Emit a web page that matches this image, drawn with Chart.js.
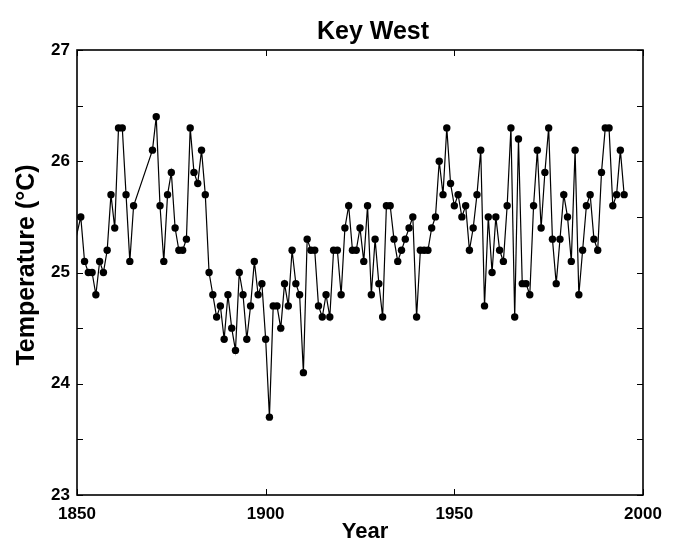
<!DOCTYPE html>
<html>
<head>
<meta charset="utf-8">
<title>Key West</title>
<script src="https://cdn.jsdelivr.net/npm/chart.js@4/dist/chart.umd.min.js"></script>
<style>
  html, body { margin: 0; padding: 0; background: #fff; }
  #c { display: block; }
</style>
</head>
<body>
<canvas id="c" width="675" height="546"></canvas>
<script>
// Annual mean temperature at Key West (°C)
const years = [
  1849, 1851, 1852, 1853, 1854, 1855, 1856, 1857, 1858, 1859, 1860,
  1861, 1862, 1863, 1864, 1865,
  1870, 1871, 1872, 1873, 1874, 1875, 1876, 1877, 1878, 1879, 1880,
  1881, 1882, 1883, 1884, 1885, 1886, 1887, 1888, 1889, 1890,
  1891, 1892, 1893, 1894, 1895, 1896, 1897, 1898, 1899, 1900,
  1901, 1902, 1903, 1904, 1905, 1906, 1907, 1908, 1909, 1910,
  1911, 1912, 1913, 1914, 1915, 1916, 1917, 1918, 1919, 1920,
  1921, 1922, 1923, 1924, 1925, 1926, 1927, 1928, 1929, 1930,
  1931, 1932, 1933, 1934, 1935, 1936, 1937, 1938, 1939, 1940,
  1941, 1942, 1943, 1944, 1945, 1946, 1947, 1948, 1949, 1950,
  1951, 1952, 1953, 1954, 1955, 1956, 1957, 1958, 1959, 1960,
  1961, 1962, 1963, 1964, 1965, 1966, 1967, 1968, 1969, 1970,
  1971, 1972, 1973, 1974, 1975, 1976, 1977, 1978, 1979, 1980,
  1981, 1982, 1983, 1984, 1985, 1986, 1987, 1988, 1989, 1990,
  1991, 1992, 1993, 1994, 1995
];
const temps = [
  25.2, 25.5, 25.1, 25.0, 25.0, 24.8, 25.1, 25.0, 25.2, 25.7, 25.4,
  26.3, 26.3, 25.7, 25.1, 25.6,
  26.1, 26.4, 25.6, 25.1, 25.7, 25.9, 25.4, 25.2, 25.2, 25.3, 26.3,
  25.9, 25.8, 26.1, 25.7, 25.0, 24.8, 24.6, 24.7, 24.4, 24.8,
  24.5, 24.3, 25.0, 24.8, 24.4, 24.7, 25.1, 24.8, 24.9, 24.4,
  23.7, 24.7, 24.7, 24.5, 24.9, 24.7, 25.2, 24.9, 24.8, 24.1,
  25.3, 25.2, 25.2, 24.7, 24.6, 24.8, 24.6, 25.2, 25.2, 24.8,
  25.4, 25.6, 25.2, 25.2, 25.4, 25.1, 25.6, 24.8, 25.3, 24.9,
  24.6, 25.6, 25.6, 25.3, 25.1, 25.2, 25.3, 25.4, 25.5, 24.6,
  25.2, 25.2, 25.2, 25.4, 25.5, 26.0, 25.7, 26.3, 25.8, 25.6,
  25.7, 25.5, 25.6, 25.2, 25.4, 25.7, 26.1, 24.7, 25.5, 25.0,
  25.5, 25.2, 25.1, 25.6, 26.3, 24.6, 26.2, 24.9, 24.9, 24.8,
  25.6, 26.1, 25.4, 25.9, 26.3, 25.3, 24.9, 25.3, 25.7, 25.5,
  25.1, 26.1, 24.8, 25.2, 25.6, 25.7, 25.3, 25.2, 25.9, 26.3,
  26.3, 25.6, 25.7, 26.1, 25.7
];
const xTickYears = [1850, 1900, 1950, 2000];
const yRange = [23, 27];

const FONT = '"Liberation Sans", Arial, Helvetica, sans-serif';

// Box around the plot with inward tick marks on all four sides
const boxTicks = {
  id: 'boxTicks',
  afterDatasetsDraw(chart) {
    const { ctx, chartArea: a, scales: { x, y } } = chart;
    const len = 6;
    ctx.save();
    ctx.strokeStyle = '#000';
    ctx.lineWidth = 1;
    ctx.beginPath();
    y.ticks.forEach(t => {
      const py = Math.round(y.getPixelForValue(t.value)) + 0.5;
      ctx.moveTo(a.left, py); ctx.lineTo(a.left + len, py);
      ctx.moveTo(a.right, py); ctx.lineTo(a.right - len, py);
    });
    x.ticks.forEach(t => {
      const px = Math.round(x.getPixelForValue(t.value)) + 0.5;
      ctx.moveTo(px, a.top); ctx.lineTo(px, a.top + len);
      ctx.moveTo(px, a.bottom); ctx.lineTo(px, a.bottom - len);
    });
    ctx.stroke();
    ctx.lineWidth = 1.6;
    ctx.strokeRect(a.left, a.top, a.right - a.left, a.bottom - a.top);
    ctx.restore();
  }
};

// Heading and axis captions
const captions = {
  id: 'captions',
  afterDraw(chart) {
    const { ctx } = chart;
    ctx.save();
    ctx.fillStyle = '#000';
    ctx.textAlign = 'center';

    ctx.font = 'bold 25px ' + FONT;
    ctx.textBaseline = 'alphabetic';
    ctx.fillText('Key West', 373, 39);

    ctx.font = 'bold 22px ' + FONT;
    ctx.textBaseline = 'middle';
    ctx.fillText('Year', 365, 532);

    ctx.translate(27, 265);
    ctx.rotate(-Math.PI / 2);
    ctx.font = 'bold 25px ' + FONT;
    ctx.fillText('Temperature (°C)', 0, 0);
    ctx.restore();
  }
};

new Chart(document.getElementById('c'), {
  type: 'line',
  data: {
    datasets: [{
      data: years.map((yr, i) => ({ x: yr, y: temps[i] })),
      borderColor: '#000',
      borderWidth: 1.2,
      backgroundColor: '#000',
      pointBackgroundColor: '#000',
      pointBorderColor: '#000',
      pointRadius: 3.7,
      pointBorderWidth: 0,
      tension: 0,
      fill: false
    }]
  },
  options: {
    responsive: false,
    animation: false,
    events: [],
    layout: { padding: { top: 50, right: 32, left: 0, bottom: 0 } },
    plugins: { legend: { display: false }, tooltip: { enabled: false } },
    scales: {
      x: {
        type: 'linear',
        min: xTickYears[0],
        max: xTickYears[xTickYears.length - 1],
        afterBuildTicks(scale) { scale.ticks = xTickYears.map(v => ({ value: v })); },
        afterFit(scale) { scale.height = 51; },
        grid: { display: false, drawTicks: false },
        border: { display: false },
        ticks: {
          color: '#000',
          padding: 9,
          font: { family: FONT, size: 17, weight: 'bold' },
          callback: v => String(v)
        },
        title: { display: false }
      },
      y: {
        min: yRange[0],
        max: yRange[1],
        afterFit(scale) { scale.width = 77; },
        grid: { display: false, drawTicks: false },
        border: { display: false },
        ticks: {
          stepSize: 0.5,
          autoSkip: false,
          color: '#000',
          padding: 7,
          font: { family: FONT, size: 17, weight: 'bold' },
          callback: v => Number.isInteger(v) ? String(v) : ''
        },
        title: { display: false }
      }
    }
  },
  plugins: [boxTicks, captions]
});
</script>
</body>
</html>
